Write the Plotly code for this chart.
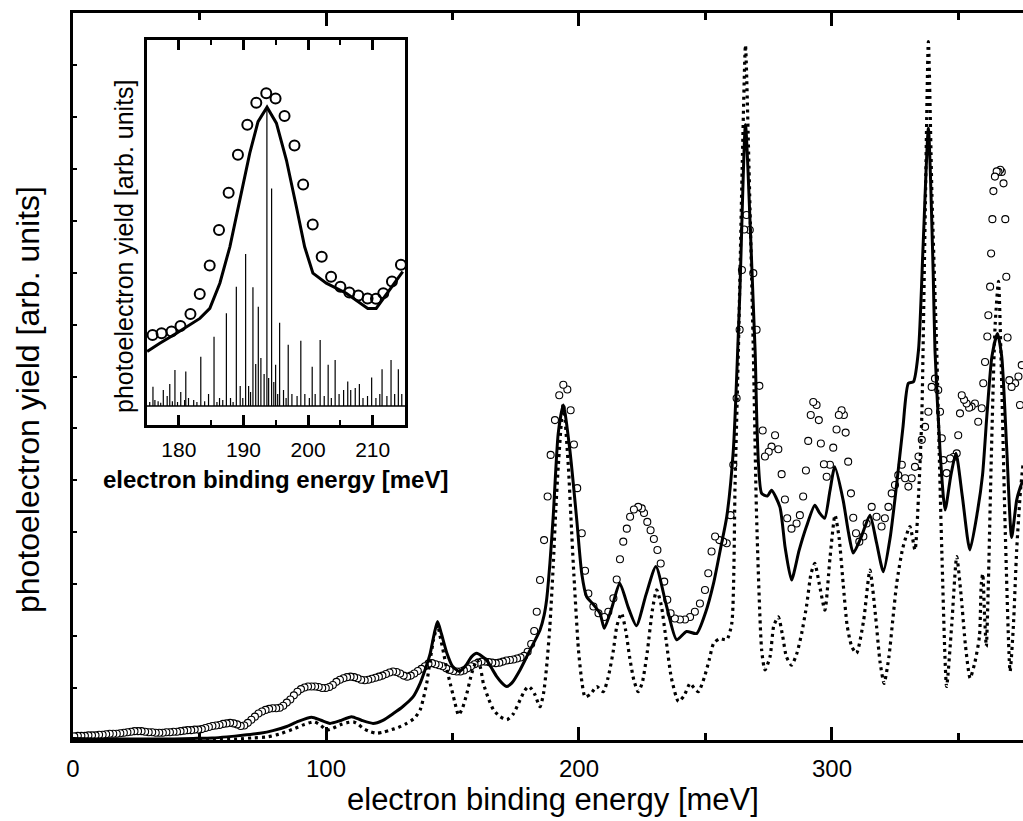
import plotly.graph_objects as go

# ---------------- main panel data ----------------
exp_x = [0.5, 1.9, 3.3, 4.7, 6.1, 7.5, 8.9, 10.3, 11.7, 13.1, 14.5, 15.9, 17.3, 18.7, 20.1, 21.5, 22.9, 24.3,
         25.7, 27.1, 28.5, 29.9, 31.3, 32.7, 34.1, 35.5, 36.9, 38.3, 39.7, 41.1, 42.5, 43.9, 45.3, 46.7, 48.1,
         49.5, 50.9, 52.3, 53.7, 55.1, 56.5, 57.9, 59.3, 60.7, 62.1, 63.5, 64.9, 66.3, 67.7, 69.1, 70.5, 71.9,
         73.3, 74.7, 76.1, 77.5, 78.9, 80.3, 81.7, 83.1, 84.5, 85.9, 87.3, 88.7, 90.1, 91.5, 92.9, 94.3, 95.7,
         97.1, 98.5, 99.9, 101.3, 102.7, 104.1, 105.5, 106.9, 108.3, 109.7, 111.1, 112.5, 113.9, 115.3, 116.7,
         118.1, 119.5, 120.9, 122.3, 123.7, 125.1, 126.5, 127.9, 129.3, 130.7, 132.1, 133.5, 134.9, 136.3,
         137.7, 139.1, 140.5, 141.9, 143.3, 144.7, 146.1, 147.5, 148.9, 150.3, 151.7, 153.1, 154.5, 155.9,
         157.3, 158.7, 160.1, 161.5, 162.9, 164.3, 165.7, 167.1, 168.5, 169.9, 171.3, 172.7, 174.1, 175.5,
         176.9, 178.3, 179.7, 181.1, 182.3, 183.3, 184.6, 186.2, 187.6, 188.8, 190.5, 192.2, 193.8, 195.4,
         196.7, 198.0, 199.3, 201.1, 202.4, 203.7, 205.7, 207.7, 210.0, 211.6, 213.6, 214.9, 216.2, 217.5,
         218.9, 220.2, 221.7, 223.4, 224.8, 225.7, 227.0, 228.3, 229.6, 231.0, 232.3, 233.7, 234.9, 236.2,
         237.9, 239.9, 241.9, 243.9, 245.8, 247.8, 249.8, 251.1, 252.4, 253.8, 255.5, 257.0, 258.4, 259.9,
         261.0, 262.3, 263.5, 264.4, 265.3, 266.2, 267.5, 268.9, 270.2, 271.3, 272.6, 273.5, 275.0, 276.1,
         277.5, 278.8, 280.1, 281.4, 282.3, 284.0, 286.0, 287.3, 288.6, 289.7, 290.6, 291.6, 292.6, 293.9,
         294.8, 295.6, 296.8, 297.9, 299.2, 300.5, 301.8, 302.7, 303.8, 304.7, 305.4, 306.4, 307.5, 308.4,
         309.5, 310.8, 312.4, 313.7, 315.7, 317.6, 319.6, 320.9, 322.3, 323.6, 324.9, 326.2, 327.6, 328.9,
         330.2, 331.5, 332.8, 334.2, 335.5, 336.8, 338.1, 339.4, 340.7, 342.0, 342.7, 343.4, 344.0, 345.3,
         346.7, 348.0, 349.3, 349.9, 350.6, 351.3, 352.2, 353.2, 354.2, 355.2, 356.5, 357.8, 359.2, 359.8,
         360.5, 361.4, 361.8, 362.5, 362.9, 363.4, 363.8, 364.4, 365.1, 365.8, 366.5, 367.1, 367.8, 368.5,
         368.9, 369.4, 370.1, 371.0, 372.4, 373.7, 374.3, 375.0]
exp_y = [0.07, 0.08, 0.08, 0.08, 0.09, 0.09, 0.09, 0.10, 0.10, 0.11, 0.12, 0.12, 0.12, 0.13, 0.14, 0.15, 0.16, 0.17,
         0.17, 0.17, 0.16, 0.15, 0.15, 0.14, 0.14, 0.14, 0.15, 0.15, 0.16, 0.16, 0.17, 0.18, 0.19, 0.19, 0.20,
         0.20, 0.21, 0.23, 0.25, 0.27, 0.28, 0.29, 0.31, 0.32, 0.33, 0.32, 0.30, 0.27, 0.28, 0.33, 0.39, 0.45,
         0.51, 0.55, 0.58, 0.60, 0.61, 0.61, 0.62, 0.66, 0.72, 0.78, 0.86, 0.93, 0.98, 1.01, 1.03, 1.03, 1.03,
         1.02, 1.00, 1.00, 1.02, 1.06, 1.12, 1.16, 1.19, 1.21, 1.22, 1.21, 1.19, 1.16, 1.15, 1.16,
         1.18, 1.20, 1.22, 1.24, 1.27, 1.30, 1.32, 1.31, 1.28, 1.24, 1.22, 1.24, 1.28, 1.33,
         1.37, 1.42, 1.47, 1.48, 1.46, 1.44, 1.42, 1.38, 1.35, 1.33, 1.32, 1.32, 1.34, 1.38,
         1.42, 1.46, 1.49, 1.51, 1.51, 1.50, 1.49, 1.48, 1.49, 1.51, 1.53, 1.54, 1.55, 1.57,
         1.59, 1.62, 1.70, 1.85, 2.10, 2.47, 3.08, 3.85, 4.69, 5.49, 6.16, 6.64, 6.84, 6.75,
         6.35, 5.69, 4.85, 3.98, 3.26, 2.82, 2.57, 2.44, 2.37, 2.47, 2.73, 3.09, 3.48, 3.82,
         4.07, 4.30, 4.44, 4.49, 4.46, 4.37, 4.20, 4.04, 3.87, 3.66, 3.40, 3.05, 2.70, 2.44,
         2.34, 2.32, 2.32, 2.37, 2.47, 2.63, 2.89, 3.21, 3.63, 3.92, 3.85, 3.82, 3.79, 4.33,
         5.30, 6.58, 7.90, 9.05, 9.83, 10.11, 9.82, 8.99, 7.90, 6.82, 5.96, 5.46, 5.55, 5.65,
         5.87, 5.60, 5.12, 4.63, 4.27, 4.07, 4.17, 4.33, 4.69, 5.19, 5.76, 6.26, 6.51, 6.45,
         6.16, 5.71, 5.31, 5.07, 5.30, 5.63, 5.98, 6.26, 6.35, 6.26, 5.92, 5.36, 4.75, 4.28,
         3.98, 3.82, 3.92, 4.17, 4.49, 4.30, 4.11, 4.27, 4.49, 4.75, 4.91, 5.10, 5.30, 5.04,
         4.88, 5.04, 5.26, 5.46, 5.78, 6.03, 6.32, 6.80, 6.96, 6.74, 6.32, 5.81, 5.39, 5.14,
         5.42, 5.45, 5.52, 5.87, 6.29, 6.64, 6.55, 6.48, 6.40, 6.42, 6.48, 6.13, 6.39, 6.87,
         7.28, 7.77, 8.18, 8.73, 9.37, 10.03, 10.57, 10.85, 10.95, 10.94, 10.98, 10.94, 10.72, 10.03,
         8.92, 7.75, 6.93, 6.80, 6.87, 7.00, 6.45, 7.22]

solid_x = [0, 10, 20, 30, 40, 47.5, 55, 60.8, 67, 73.9, 79, 84.5, 89, 94.3, 98, 101.6, 105.5, 110.1, 114,
           118.6, 122.5, 126.6, 130.5, 134.4, 137.2, 139.5, 141.2, 142.8, 144.1, 145.6, 147.8, 150, 152.7,
           155.5, 157.5, 159.6, 161.5, 163.5, 165.5, 167.5, 169.5, 171.4, 173.5, 176.7, 179.5, 182.0, 184.6,
           186.2, 187.2, 188.5, 189.8, 191.8, 193.8, 196.4, 199.0, 201.1, 203.0, 205.5, 208.3, 210.0, 213.0,
           216.1, 219.5, 222.7, 226.5, 230.4, 234.5, 238.6, 242.5, 246.5, 250, 253.2, 256, 258.4, 261.0,
           263.5, 265.8, 268.0, 269.6, 272.2, 274.5, 276.1, 279.4, 281.5, 284.0, 287, 289.9, 293.2, 295,
           297.1, 299.2, 301.1, 304.4, 306.5, 308.4, 311.5, 315.0, 317.6, 320.3, 323, 325.6, 328, 330.2,
           332.2, 334.2, 336, 338.1, 340.0, 340.7, 342.7, 344.7, 347, 349.0, 351.5, 354.5, 357.5, 359.5,
           361.2, 363.2, 365.4, 367.1, 369.1, 371.0, 373.0, 374.3, 375.5]
solid_y = [0.03, 0.02, 0.02, 0.02, 0.02, 0.03, 0.04, 0.06, 0.09, 0.13, 0.18, 0.26, 0.36, 0.44, 0.38, 0.32, 0.37,
           0.45, 0.38, 0.32, 0.38, 0.51, 0.65, 0.83, 1.09, 1.40, 1.67, 2.05, 2.28, 2.05, 1.67, 1.42, 1.32,
           1.45, 1.60, 1.67, 1.62, 1.54, 1.38, 1.22, 1.10, 1.03, 1.10, 1.35, 1.62, 1.86, 2.12,
           2.40, 2.70, 3.40, 4.30, 5.91, 6.45, 5.58, 4.30, 3.20, 2.76, 2.62, 2.44, 2.15, 2.55,
           3.02, 2.55, 2.20, 2.80, 3.34, 2.60, 1.93, 2.09, 2.05, 2.45, 3.02, 3.70, 4.30, 5.58,
           8.50, 11.85, 9.50, 7.51, 4.75, 4.70, 4.81, 4.49, 3.70, 3.08, 3.65, 4.11, 4.52, 4.38,
           4.27, 4.80, 5.26, 4.62, 4.00, 3.60, 3.90, 4.33, 3.80, 3.24, 3.90, 4.94, 6.00, 6.87,
           6.90, 7.51, 9.50, 11.78, 9.00, 7.51, 5.58, 4.43, 5.10, 5.52, 4.70, 3.66, 4.40, 5.10,
           6.23, 7.38, 7.83, 7.38, 5.58, 3.90, 4.62, 4.85, 5.00]

dot_x = [0, 20, 40, 55, 65, 71, 76.9, 82, 87.5, 91.5, 95.4, 98, 100.2, 102.5, 105.5, 108, 110.8, 112.8, 114.8,
         117.5, 120.0, 122.5, 125.3, 128.5, 131.9, 135, 137.2, 138.5, 139.8, 141.2, 142.5, 144.1, 145.3, 146.5,
         147.8, 149.1, 150.8, 152.4, 154, 155.7, 157.7, 159.7, 161, 162.2, 164.2, 166.2, 168.8, 171.5, 174,
         176.7, 178.5, 180.0, 181.3, 182.6, 184.6, 186, 187.2, 188.5, 189.8, 190.8, 191.8, 193.8, 195.8,
         196.8, 197.8, 199.8, 201.2, 202.4, 204.5, 207.0, 209.6, 211.5, 213.5, 215, 216.8, 218.5, 220, 221.7,
         223.4, 225, 227, 229, 230.7, 232.5, 234.5, 236.5, 239.3, 241.5, 243.9, 245.5, 247.2, 249.5, 251.5,
         253.2, 255.5, 258.4, 260.4, 261.7, 263.0, 264.5, 265.8, 267.2, 268.9, 270.2, 272.2, 273.5, 275.5,
         277, 278.8, 280.5, 282, 284.0, 286, 288.0, 290, 291.7, 293.2, 295, 297.2, 299.2, 301.2, 302.8,
         304.4, 306, 307.8, 309.7, 312.5, 315.0, 317.2, 319, 320.6, 322.5, 324, 325.6, 328, 330.8, 332.8,
         334.3, 335.5, 336.8, 338.1, 339.5, 341.4, 342.4, 343.4, 345.3, 347.3, 349.3, 351, 352.8, 354.6,
         356.5, 358.3, 359.0, 359.6, 360.3, 361.0, 361.8, 363.0, 364.5, 365.8, 367.0, 368.5, 370.4, 371.7,
         373.0, 374.5, 375.5]
dot_y = [0.0, 0.0, 0.0, 0.01, 0.02, 0.04, 0.06, 0.12, 0.22, 0.30, 0.35, 0.28, 0.19, 0.22, 0.29, 0.33, 0.35, 0.30,
         0.22, 0.16, 0.13, 0.15, 0.19, 0.24, 0.32, 0.42, 0.58, 0.80, 1.09, 1.55, 1.93, 2.21, 1.95, 1.67,
         1.35, 1.09, 0.75, 0.48, 0.62, 0.90, 1.30, 1.54, 1.40, 1.09, 0.80, 0.58, 0.45, 0.39, 0.50,
         0.77, 0.95, 1.03, 0.98, 0.87, 0.64, 0.90, 1.41, 2.20, 3.34, 4.40, 5.26, 6.48, 5.26,
         4.30, 3.34, 1.73, 1.10, 0.83, 0.88, 1.03, 0.93, 1.20, 1.70, 2.20, 2.44, 2.10, 1.60, 1.15,
         0.93, 1.10, 1.70, 2.50, 2.89, 2.60, 1.90, 1.20, 0.74, 0.85, 1.09, 1.00, 0.93, 1.20, 1.55,
         1.86, 1.95, 1.93, 2.25, 4.94, 7.51, 11.0, 13.38, 11.0, 7.51, 4.30, 1.73, 1.35, 1.60,
         2.20, 2.37, 2.00, 1.60, 1.44, 1.65, 2.05, 2.60, 3.20, 3.40, 3.00, 2.50, 3.50, 4.33, 3.90,
         3.02, 2.20, 1.80, 1.67, 2.30, 3.27, 2.40, 1.50, 1.09, 1.60, 2.30, 3.02, 3.70, 4.11, 3.66,
         4.80, 6.23, 10.0, 13.45, 10.5, 7.51, 5.50, 3.66, 1.03, 2.20, 3.53, 2.80, 1.80, 1.19,
         1.50, 2.00, 3.00, 3.20, 2.40, 1.80, 3.00, 5.50, 8.00, 8.83, 7.00, 4.00, 1.32, 2.20,
         3.66, 4.80, 5.30]

main_xticks = [0, 100, 200, 300]

# ---------------- inset data ----------------
in_exp_x = [175.94, 177.33, 178.87, 180.26, 181.80, 183.24, 184.78, 186.22, 187.71, 189.15, 190.60, 191.99,
            193.53, 194.97, 196.36, 197.90, 199.24, 200.72, 202.11, 203.56, 205.00, 206.39, 207.78, 209.21,
            210.51, 211.64, 212.98, 214.37]
in_exp_y = [1.775, 1.82, 1.86, 2.0, 2.3, 2.8, 3.51, 4.4, 5.33, 6.28, 7.03, 7.58, 7.82, 7.69, 7.25, 6.51, 5.54,
            4.54, 3.73, 3.23, 2.98, 2.84, 2.76, 2.69, 2.68, 2.82, 3.11, 3.53]
in_fit_x = [175.1, 177.06, 179.64, 183.26, 184.8, 186.35, 187.9, 189.44, 190.98, 192.26, 193.65, 195.1, 196.65,
            198.19, 199.47, 200.75, 202.82, 205.91, 209.24, 210.54, 212.6, 214.65]
in_fit_y = [1.36, 1.57, 1.82, 2.19, 2.44, 3.07, 3.98, 5.15, 6.32, 7.11, 7.47, 7.07, 6.15, 4.98, 3.98, 3.32, 3.07,
            2.82, 2.44, 2.44, 2.9, 3.36]
stick_x = [175.5, 176.0, 176.3, 176.8, 177.2, 177.6, 178.2, 178.6, 179.0, 179.4, 179.8, 180.3, 180.9, 181.08,
           181.5, 182.3, 182.8, 183.4, 184.0, 184.6, 185.45, 185.9, 186.3, 186.8, 187.36, 188.0, 188.4, 188.9,
           189.5, 189.9, 190.34, 190.8, 191.1, 191.47, 191.9, 192.3, 192.7, 193.2, 193.63, 193.9, 194.36,
           194.7, 194.98, 195.3, 195.6, 196.2, 196.6, 196.93, 197.5, 198.3, 198.88, 199.5, 200.2, 200.64,
           201.1, 201.87, 202.5, 203.11, 203.6, 204.19, 204.8, 205.5, 206.14, 206.6, 207.3, 207.94, 208.5,
           209.2, 209.84, 210.5, 211.1, 211.45, 212.2, 212.84, 213.4, 213.97, 214.5]
stick_h = [0.10, 0.48, 0.15, 0.12, 0.08, 0.40, 0.25, 0.55, 0.12, 0.90, 0.10, 0.35, 0.15, 0.86,
           0.20, 0.15, 0.10, 1.23, 0.12, 0.30, 1.73, 0.10, 0.20, 0.15, 2.32, 0.20, 0.10, 2.98,
           0.50, 0.20, 3.80, 0.50, 0.35, 2.97, 1.05, 2.48, 1.20, 0.80, 7.44, 0.70, 5.44,
           0.60, 1.03, 0.30, 2.08, 0.40, 0.20, 1.53, 0.30, 0.25, 1.63, 0.30, 0.20, 0.98,
           0.30, 1.65, 0.25, 1.03, 0.20, 1.15, 0.30, 0.40, 0.61, 0.40, 0.45, 0.55, 0.20,
           0.25, 0.71, 0.20, 0.30, 0.92, 0.25, 1.15, 0.30, 0.92, 0.30]
inset_xticks = [180, 190, 200, 210]
inset_xrange = [175, 215]

FONT = "Arial, Liberation Sans, sans-serif"

fig = go.Figure()

# main panel
fig.add_trace(go.Scatter(x=exp_x[::-1], y=exp_y[::-1], mode="markers",
                         marker=dict(symbol="circle", size=7, color="white",
                                     line=dict(color="black", width=1.1)),
                         xaxis="x", yaxis="y", showlegend=False))
fig.add_trace(go.Scatter(x=dot_x, y=dot_y, mode="lines",
                         line=dict(color="black", width=3.2, dash="3px,4px", shape="spline", smoothing=0.6),
                         xaxis="x", yaxis="y", showlegend=False))
fig.add_trace(go.Scatter(x=solid_x, y=solid_y, mode="lines",
                         line=dict(color="black", width=3, shape="spline", smoothing=0.6),
                         xaxis="x", yaxis="y", showlegend=False))

# inset: sticks
sx, sy = [], []
for xv, hv in zip(stick_x, stick_h):
    sx += [xv, xv, None]
    sy += [0, hv, None]
fig.add_trace(go.Scatter(x=sx, y=sy, mode="lines", line=dict(color="black", width=1.2),
                         xaxis="x2", yaxis="y2", showlegend=False))
fig.add_trace(go.Scatter(x=inset_xrange, y=[0, 0], mode="lines", line=dict(color="black", width=1.5),
                         xaxis="x2", yaxis="y2", showlegend=False))
fig.add_trace(go.Scatter(x=in_fit_x, y=in_fit_y, mode="lines", line=dict(color="black", width=3),
                         xaxis="x2", yaxis="y2", showlegend=False))
fig.add_trace(go.Scatter(x=in_exp_x, y=in_exp_y, mode="markers",
                         marker=dict(symbol="circle-open", size=10, color="black", line=dict(width=2)),
                         xaxis="x2", yaxis="y2", showlegend=False, cliponaxis=False))

L, R, T, B = 73, 0, 13, 81
W, H = 1023, 821
pw, ph = W - L - R, H - T - B


def px(xp):
    return (xp - L) / pw


def py(yp):
    return (H - B - yp) / ph


fig.update_layout(
    width=W, height=H, autosize=False,
    margin=dict(l=L, r=R, t=T, b=B, pad=0),
    paper_bgcolor="white", plot_bgcolor="rgba(0,0,0,0)",
    font=dict(family=FONT, color="black"),
    xaxis=dict(range=[0, 375.5], tickvals=main_xticks, ticks="inside", ticklen=13, tickwidth=2.5,
               tickcolor="black", showline=True, linewidth=2.7, linecolor="black", mirror="ticks",
               showgrid=False, zeroline=False, tickfont=dict(size=24, family=FONT),
               ticklabelstandoff=5,
               minor=dict(ticks="inside", dtick=50, tick0=0, ticklen=7, tickwidth=2.5, tickcolor="black",
                          showgrid=False)),
    yaxis=dict(range=[0, 14], dtick=1, tick0=0, ticks="inside", ticklen=4, tickwidth=2, tickcolor="black",
               showline=True, linewidth=2.7, linecolor="black", mirror=False, showticklabels=False,
               showgrid=False, zeroline=False),
    xaxis2=dict(domain=[px(146.5), px(405)], anchor="y2", range=inset_xrange, tickvals=inset_xticks,
                ticks="inside", ticklen=10, tickwidth=2.5, tickcolor="black", showline=True, linewidth=3,
                linecolor="black", mirror="ticks", showgrid=False, zeroline=False,
                tickfont=dict(size=21, family=FONT), ticklabelstandoff=4,
                minor=dict(ticks="inside", dtick=5, tick0=175, ticklen=5, tickwidth=2, tickcolor="black",
                           showgrid=False)),
    yaxis2=dict(domain=[py(425), py(40)], anchor="x2", range=[-0.475, 9.15], showline=True, linewidth=3,
                linecolor="black", mirror=True, ticks="", showticklabels=False, showgrid=False,
                zeroline=False),
    annotations=[
        dict(text="electron binding energy [meV]", x=px(552.5), y=py(799), xref="paper", yref="paper",
             showarrow=False, xanchor="center", yanchor="middle", font=dict(size=31, family=FONT)),
        dict(text="photoelectron yield [arb. units]", x=px(28), y=py(400), xref="paper", yref="paper",
             showarrow=False, xanchor="center", yanchor="middle", textangle=-90,
             font=dict(size=32, family=FONT)),
        dict(text="<b>electron binding energy [meV]</b>", x=px(275), y=py(479), xref="paper", yref="paper",
             showarrow=False, xanchor="center", yanchor="middle", font=dict(size=24, family=FONT)),
        dict(text="photoelectron yield [arb. units]", x=px(124), y=py(246), xref="paper", yref="paper",
             showarrow=False, xanchor="center", yanchor="middle", textangle=-90,
             font=dict(size=25, family=FONT)),
    ],
)

fig.write_html("out.html")
